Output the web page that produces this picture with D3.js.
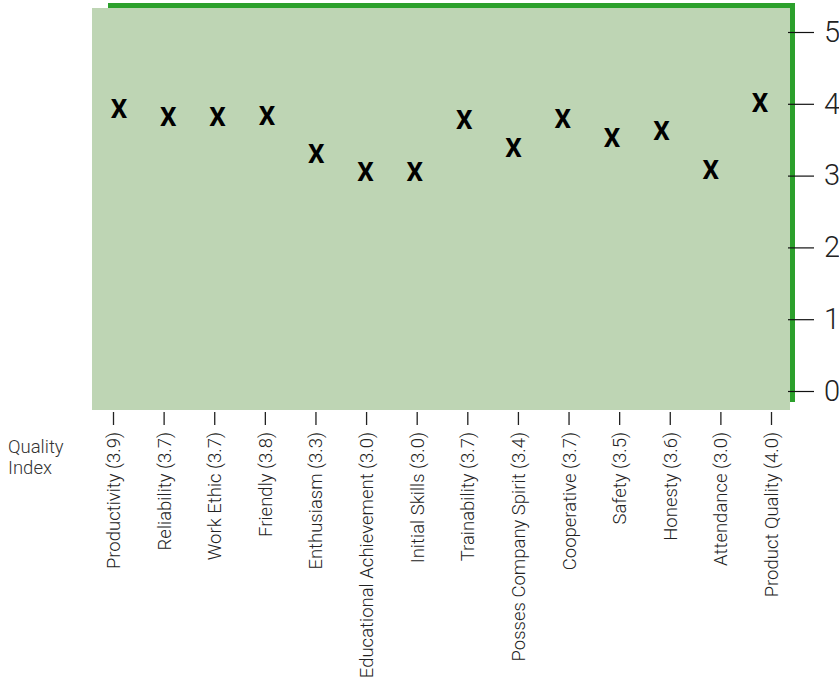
<!DOCTYPE html>
<html>
<head>
<meta charset="utf-8">
<script src="https://cdn.jsdelivr.net/npm/d3@7"></script>
<style>
  html, body { margin: 0; padding: 0; background: #fff; }
  svg { display: block; }
</style>
</head>
<body>
<svg id="chart" width="839" height="684"></svg>
<script>
// ---- data ----
const categories = ["Productivity", "Reliability", "Work Ethic", "Friendly", "Enthusiasm",
  "Educational Achievement", "Initial Skills", "Trainability", "Posses Company Spirit",
  "Cooperative", "Safety", "Honesty", "Attendance", "Product Quality"];
const labelScores = ["3.9", "3.7", "3.7", "3.8", "3.3", "3.0", "3.0", "3.7", "3.4", "3.7", "3.5", "3.6", "3.0", "4.0"];
const values = [3.93, 3.82, 3.82, 3.84, 3.31, 3.06, 3.05, 3.78, 3.39, 3.80, 3.53, 3.62, 3.08, 4.02];
const yTicks = [0, 1, 2, 3, 4, 5];
const axisTitle = ["Quality", "Index"];

// ---- layout ----
const svg = d3.select("#chart");
const plot = { left: 92, right: 790, top: 8, bottom: 410 };
const fillColor = "#bed5b4";
const green = "#2ca02c";
const labelFont = "Roboto, 'Liberation Sans', Arial, sans-serif";

const y = d3.scaleLinear().domain([0, 5]).range([391, 32]);
const xTick = d3.scalePoint().domain(categories).range([113, 771]);
const xMark = d3.scalePoint().domain(categories).range([119, 760]);

// background panel
svg.append("rect")
  .attr("x", plot.left).attr("y", plot.top)
  .attr("width", plot.right - plot.left).attr("height", plot.bottom - plot.top)
  .attr("fill", fillColor);

// green frame lines (top and right)
svg.append("line")
  .attr("x1", 108).attr("x2", 795)
  .attr("y1", 5.5).attr("y2", 5.5)
  .attr("stroke", green).attr("stroke-width", 5);
svg.append("line")
  .attr("x1", 792.5).attr("x2", 792.5)
  .attr("y1", 3).attr("y2", 402)
  .attr("stroke", green).attr("stroke-width", 5);

// right y axis
const yAxis = d3.axisRight(y).tickValues(yTicks).tickSize(26).tickPadding(10).tickFormat(d3.format("d"));
const gy = svg.append("g").attr("transform", "translate(788,0)").call(yAxis);
gy.select(".domain").remove();
gy.selectAll(".tick line").attr("stroke", "#111").attr("stroke-width", 1.2);
gy.selectAll(".tick text")
  .attr("font-family", labelFont).attr("font-weight", 300)
  .attr("font-size", 29).attr("fill", "#222");

// bottom category axis
const xAxis = d3.axisBottom(xTick).tickSize(13).tickFormat((d, i) => `${d} (${labelScores[i]})`);
const gx = svg.append("g").attr("transform", `translate(0,${plot.bottom + 2})`).call(xAxis);
gx.select(".domain").remove();
gx.selectAll(".tick line").attr("stroke", "#222").attr("stroke-width", 1.3);
gx.selectAll(".tick text")
  .attr("transform", "rotate(-90)")
  .attr("x", -20).attr("y", 0).attr("dy", "0.35em")
  .attr("text-anchor", "end")
  .attr("font-family", labelFont).attr("font-weight", 300)
  .attr("font-size", 18.5).attr("fill", "#222");

// axis title at left
svg.append("text")
  .attr("x", 8).attr("y", 453)
  .attr("font-family", labelFont).attr("font-weight", 300)
  .attr("font-size", 18.5).attr("fill", "#333")
  .selectAll("tspan").data(axisTitle).join("tspan")
  .attr("x", 8).attr("dy", (d, i) => i === 0 ? 0 : 21)
  .text(d => d);

// markers
svg.append("g").selectAll("text.mark")
  .data(categories.map((c, i) => ({ c, v: values[i] })))
  .join("text")
  .attr("class", "mark")
  .attr("x", d => xMark(d.c))
  .attr("y", d => y(d.v))
  .attr("dy", "0.36em")
  .attr("text-anchor", "middle")
  .attr("font-family", "Roboto, 'Liberation Sans', Arial, sans-serif")
  .attr("font-weight", 700)
  .attr("font-size", 26)
  .attr("fill", "#000")
  .text("X");
</script>
</body>
</html>
